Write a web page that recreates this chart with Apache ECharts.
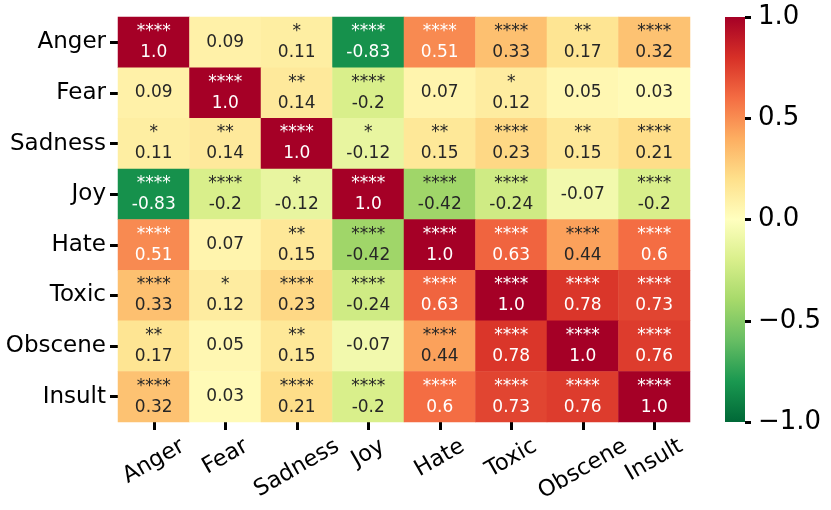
<!DOCTYPE html>
<html>
<head>
<meta charset="utf-8">
<script src="https://cdn.jsdelivr.net/npm/echarts@6/dist/echarts.min.js"></script>
<style>
  html, body { margin: 0; padding: 0; background: #fff; }
  #chart { width: 831px; height: 510px; }
</style>
</head>
<body>
<div id="chart"></div>
<script>
// 类别
const categories = ['Anger', 'Fear', 'Sadness', 'Joy', 'Hate', 'Toxic', 'Obscene', 'Insult'];

// 相关系数矩阵（按行）
const corrValues = [
    [1.0, 0.09, 0.11, -0.83, 0.51, 0.33, 0.17, 0.32],
    [0.09, 1.0, 0.14, -0.2, 0.07, 0.12, 0.05, 0.03],
    [0.11, 0.14, 1.0, -0.12, 0.15, 0.23, 0.15, 0.21],
    [-0.83, -0.2, -0.12, 1.0, -0.42, -0.24, -0.07, -0.2],
    [0.51, 0.07, 0.15, -0.42, 1.0, 0.63, 0.44, 0.6],
    [0.33, 0.12, 0.23, -0.24, 0.63, 1.0, 0.78, 0.73],
    [0.17, 0.05, 0.15, -0.07, 0.44, 0.78, 1.0, 0.76],
    [0.32, 0.03, 0.21, -0.2, 0.6, 0.73, 0.76, 1.0]
];

// 显著性星号
const stars = [
    ['****', '', '*', '****', '****', '****', '**', '****'],
    ['', '****', '**', '****', '', '*', '', ''],
    ['*', '**', '****', '*', '**', '****', '**', '****'],
    ['****', '****', '*', '****', '****', '****', '', '****'],
    ['****', '', '**', '****', '****', '****', '****', '****'],
    ['****', '*', '****', '****', '****', '****', '****', '****'],
    ['**', '', '**', '', '****', '****', '****', '****'],
    ['****', '', '****', '****', '****', '****', '****', '****']
];

// 色条刻度
const cbTicks = [-1, -0.5, 0, 0.5, 1];
const cbTickLabels = ['\u22121.0', '\u22120.5', '0.0', '0.5', '1.0'];

// RdYlGn_r
const cmap = ['#006837', '#1a9850', '#66bd63', '#a6d96a', '#d9ef8b', '#ffffbf',
              '#fee08b', '#fdae61', '#f46d43', '#d73027', '#a50026'];

const FONT = "'DejaVu Sans', sans-serif";
const CB_LEFT = 725, CB_TOP = 17, CB_W = 20, CB_H = 405;

const fmtVal = v => Number.isInteger(v) ? v.toFixed(1) : String(v);

const heatData = [];
corrValues.forEach((row, r) => {
    row.forEach((v, c) => {
        heatData.push({
            value: [c, r, v],
            label: { color: Math.abs(v) >= 0.5 ? '#ffffff' : '#262626' }
        });
    });
});

const chart = echarts.init(document.getElementById('chart'));

const option = {
    animation: false,
    grid: [
        { left: 118, top: 17, width: 572, height: 405 },
        { left: CB_LEFT, top: CB_TOP, width: CB_W, height: CB_H }
    ],
    xAxis: [{
        type: 'category',
        data: categories,
        gridIndex: 0,
        axisLine: { show: false },
        axisTick: { show: true, alignWithLabel: true, length: 8, lineStyle: { color: '#000', width: 3 } },
        axisLabel: { show: false },
        splitLine: { show: false }
    }, {
        type: 'value',
        gridIndex: 1,
        min: 0,
        max: 1,
        show: false
    }],
    yAxis: [{
        type: 'category',
        data: categories,
        inverse: true,
        gridIndex: 0,
        axisLine: { show: false },
        axisTick: { show: true, alignWithLabel: true, length: 8, lineStyle: { color: '#000', width: 3 } },
        axisLabel: { color: '#000', fontSize: 23, fontFamily: FONT, margin: 12 },
        splitLine: { show: false }
    }, {
        type: 'value',
        gridIndex: 1,
        min: -1,
        max: 1,
        interval: 0.5,
        position: 'right',
        axisLine: { show: false, onZero: false },
        axisTick: { show: true, length: 6, lineStyle: { color: '#000', width: 3 } },
        axisLabel: {
            color: '#000', fontSize: 26, fontFamily: FONT, margin: 13,
            formatter: v => cbTickLabels[cbTicks.indexOf(v)]
        },
        splitLine: { show: false }
    }],
    visualMap: {
        type: 'continuous',
        show: false,
        min: -1,
        max: 1,
        seriesIndex: 0,
        inRange: { color: cmap }
    },
    series: [{
        type: 'heatmap',
        xAxisIndex: 0,
        yAxisIndex: 0,
        data: heatData,
        itemStyle: { borderWidth: 0 },
        label: {
            show: true,
            fontSize: 17,
            fontFamily: FONT,
            lineHeight: 21,
            formatter: p => {
                const s = stars[p.value[1]][p.value[0]];
                const t = fmtVal(p.value[2]);
                return s ? s + '\n' + t : t;
            }
        },
        emphasis: { disabled: true }
    }]
};

chart.setOption(option);

const graphics = [];

// 色条：用色表做渐变，位置取自色条坐标轴
const yTop = chart.convertToPixel({ yAxisIndex: 1 }, 1);
const yBot = chart.convertToPixel({ yAxisIndex: 1 }, -1);
graphics.push({
    type: 'rect',
    z: -1,
    shape: { x: CB_LEFT, y: yTop, width: CB_W, height: yBot - yTop },
    style: {
        fill: new echarts.graphic.LinearGradient(0, 1, 0, 0,
            cmap.map((c, i) => ({ offset: i / (cmap.length - 1), color: c })))
    }
});

// x 轴旋转标签：按 matplotlib 方式居中于刻度、顶部对齐
const ctx = document.createElement('canvas').getContext('2d');
const xFont = 22.5;
ctx.font = xFont + 'px DejaVu Sans';
const ang = Math.PI / 6;
const labelTop = 435;
categories.forEach((name, i) => {
    const px = chart.convertToPixel({ xAxisIndex: 0 }, i);
    const w = ctx.measureText(name).width;
    const h = xFont * 1.0;
    const H = w * Math.sin(ang) + h * Math.cos(ang);
    graphics.push({
        type: 'text',
        x: px,
        y: labelTop + H / 2,
        rotation: ang,
        style: {
            text: name,
            fill: '#000',
            font: xFont + 'px ' + FONT,
            align: 'center',
            verticalAlign: 'middle'
        }
    });
});
chart.setOption({ graphic: graphics });

window.addEventListener('resize', function() {
    chart.resize();
});
</script>
</body>
</html>
